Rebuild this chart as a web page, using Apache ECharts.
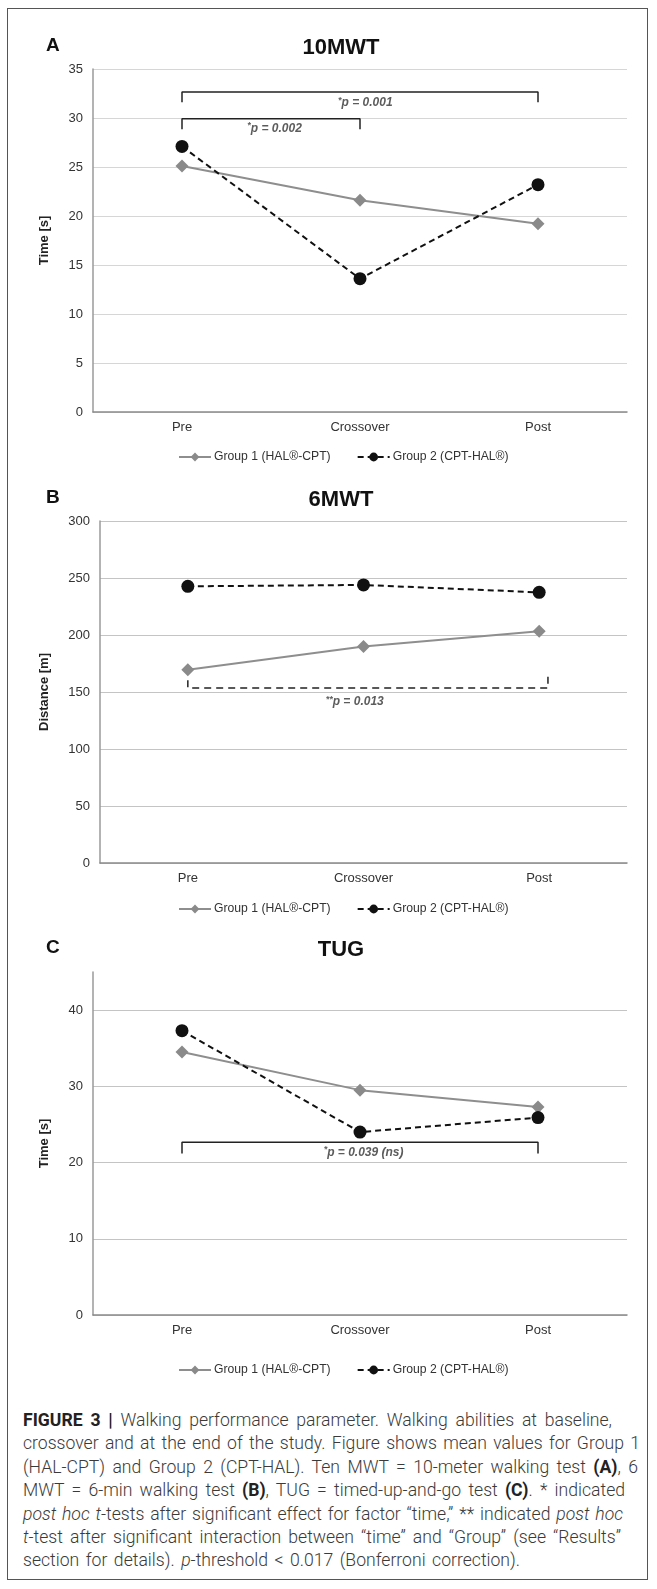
<!DOCTYPE html>
<html><head><meta charset="utf-8">
<script src="https://cdn.jsdelivr.net/npm/echarts@6/dist/echarts.min.js"></script>
<style>
html,body{margin:0;padding:0;background:#fff;}
#frame{position:absolute;left:7px;top:8px;width:639px;height:1570px;border:1.5px solid #555;box-sizing:content-box;}
#chart{position:absolute;left:0;top:0;width:657px;height:1400px;}
#caption{position:absolute;left:23px;top:1409px;font-family:Roboto,"Liberation Sans",sans-serif;font-size:17.6px;line-height:23.4px;color:#3a3a3a;white-space:nowrap;font-weight:300;}
#caption div{text-align:justify;text-align-last:justify;white-space:normal;overflow:visible;}
#caption b{font-weight:700;color:#222;}
</style></head>
<body>
<div id="frame"></div>
<div id="chart"></div>
<div id="caption">
<div style="width:589px"><b>FIGURE 3 |</b> Walking performance parameter. Walking abilities at baseline,</div>
<div style="width:617px">crossover and at the end of the study. Figure shows mean values for Group 1</div>
<div style="width:615px">(HAL-CPT) and Group 2 (CPT-HAL). Ten MWT = 10-meter walking test <b>(A)</b>, 6</div>
<div style="width:602px">MWT = 6-min walking test <b>(B)</b>, TUG = timed-up-and-go test <b>(C)</b>. * indicated</div>
<div style="width:600px"><i>post hoc t</i>-tests after significant effect for factor “time,” ** indicated <i>post hoc</i></div>
<div style="width:598px"><i>t</i>-test after significant interaction between “time” and “Group” (see “Results”</div>
<div style="width:497px">section for details). <i>p</i>-threshold &lt; 0.017 (Bonferroni correction).</div>
</div>
<script>
// ---- data ----
const categories = ['Pre', 'Crossover', 'Post'];
const seriesNames = ['Group 1 (HAL®-CPT)', 'Group 2 (CPT-HAL®)'];
const panelLetters = ['A', 'B', 'C'];
const panelTitles = ['10MWT', '6MWT', 'TUG'];
const yAxisNames = ['Time [s]', 'Distance [m]', 'Time [s]'];

const mwt10Group1 = [25.1, 21.6, 19.2];
const mwt10Group2 = [27.1, 13.6, 23.2];
const mwt6Group1 = [169.6, 190.0, 203.2];
const mwt6Group2 = [242.7, 243.9, 237.4];
const tugGroup1 = [34.5, 29.5, 27.3];
const tugGroup2 = [37.3, 24.0, 25.9];

const yTicksA = [0, 5, 10, 15, 20, 25, 30, 35];
const yTicksB = [0, 50, 100, 150, 200, 250, 300];
const yTicksC = [0, 10, 20, 30, 40];
const yMaxC = 45;

// significance brackets: path points in (category index, value)
const bracketA1 = [[0, 31.6], [0, 32.66], [2, 32.66], [2, 31.6]];
const bracketA2 = [[0, 28.85], [0, 29.93], [1, 29.93], [1, 28.85]];
const bracketB1 = [[0, 160.2], [0, 153.5], [2.05, 153.5], [2.05, 166]];
const bracketC1 = [[0, 21.2], [0, 22.67], [2, 22.67], [2, 21.2]];
const labelA1 = { at: [1.03, 31.55], stars: '*', text: 'p = 0.001' };
const labelA2 = { at: [0.52, 28.95], stars: '*', text: 'p = 0.002' };
const labelB1 = { at: [0.95, 141.2], stars: '**', text: 'p = 0.013' };
const labelC1 = { at: [1.02, 21.35], stars: '*', text: 'p = 0.039 (ns)' };

// ---- layout ----
const NARROW = '"Liberation Sans Narrow","Liberation Sans",Arial,sans-serif';
const SANS = '"Liberation Sans",Arial,sans-serif';
const grids = [
  { left: 93, right: 30, top: 69, height: 343 },
  { left: 100, right: 30, top: 521, height: 342 },
  { left: 93, right: 30, top: 972, height: 343 }
];
const gridColors = ['#d6d6d6', '#c4c4c4', '#c4c4c4'];
const titleTops = [31, 483, 933];
const legendTops = [446, 898, 1359];
const ticksList = [yTicksA, yTicksB, yTicksC];
const group1List = [mwt10Group1, mwt6Group1, tugGroup1];
const group2List = [mwt10Group2, mwt6Group2, tugGroup2];
const brackets = [[{ path: bracketA1, dash: 'solid' }, { path: bracketA2, dash: 'solid' }],
                  [{ path: bracketB1, dash: [7, 5] }],
                  [{ path: bracketC1, dash: 'solid' }]];
const labels = [[labelA1, labelA2], [labelB1], [labelC1]];

const option = {
  animation: false,
  title: [], grid: [], xAxis: [], yAxis: [], legend: [], series: []
};

for (let i = 0; i < 3; i++) {
  const ticks = ticksList[i];
  const interval = ticks[1] - ticks[0];
  const yMax = i === 2 ? yMaxC : ticks[ticks.length - 1];
  option.grid.push(grids[i]);
  option.title.push({ text: panelLetters[i], left: 41, top: titleTops[i],
    textStyle: { fontFamily: SANS, fontSize: 19, fontWeight: 'bold', color: '#111' } });
  option.title.push({ text: panelTitles[i], left: 336, textAlign: 'center', top: titleTops[i] + 1,
    textStyle: { fontFamily: SANS, fontSize: 22, fontWeight: 'bold', color: '#111' } });
  option.xAxis.push({
    type: 'category', gridIndex: i, data: categories, boundaryGap: true,
    axisLine: { lineStyle: { color: '#8a8a8a', width: 1.5 } },
    axisTick: { show: false },
    axisLabel: { fontFamily: NARROW, fontSize: 13, color: '#333', margin: 9 }
  });
  option.xAxis.push({ type: 'value', gridIndex: i, min: -0.5, max: 2.5, show: false });
  option.yAxis.push({
    type: 'value', gridIndex: i, min: 0, max: yMax, interval: interval,
    name: yAxisNames[i], nameLocation: 'middle', nameGap: i === 1 ? 49 : 42,
    nameTextStyle: { fontFamily: SANS, fontSize: 13, fontWeight: 'bold', color: '#222' },
    axisLine: { show: true, onZero: false, lineStyle: { color: '#9a9a9a', width: 1.5 } },
    axisTick: { show: false },
    axisLabel: { fontFamily: NARROW, fontSize: 13, color: '#333', margin: 10, showMaxLabel: i !== 2 },
    splitLine: { show: true, showMaxLine: i !== 2, lineStyle: { color: gridColors[i], width: 1.2 } }
  });
  option.legend.push({
    data: seriesNames, left: 173, top: legendTops[i], itemGap: 26, itemWidth: 32, itemHeight: 11,
    textStyle: { fontFamily: NARROW, fontSize: 12.2, color: '#333', padding: [0, 0, 0, -2] }
  });
  option.series.push({
    type: 'line', name: seriesNames[0], xAxisIndex: 2 * i, yAxisIndex: i, data: group1List[i],
    symbol: 'diamond', symbolSize: 13,
    lineStyle: { color: '#8e8e8e', width: 2 }, itemStyle: { color: '#8a8a8a' }, z: 3
  });
  option.series.push({
    type: 'line', name: seriesNames[1], xAxisIndex: 2 * i, yAxisIndex: i, data: group2List[i],
    symbol: 'circle', symbolSize: 13,
    lineStyle: { color: '#111', width: 2, type: [6, 4] }, itemStyle: { color: '#111' }, z: 4
  });
  brackets[i].forEach(b => {
    option.series.push({
      type: 'line', xAxisIndex: 2 * i + 1, yAxisIndex: i, data: b.path, symbol: 'none', silent: true,
      lineStyle: { color: '#222', width: 1.5, type: b.dash }, z: 2
    });
  });
  labels[i].forEach(l => {
    option.series.push({
      type: 'scatter', xAxisIndex: 2 * i + 1, yAxisIndex: i, data: [l.at], symbolSize: 1,
      itemStyle: { color: 'rgba(0,0,0,0)' }, silent: true,
      label: { show: true, position: 'inside', formatter: '{s|' + l.stars + '}{p|' + l.text + '}',
        rich: {
          s: { fontFamily: SANS, fontSize: 9, fontStyle: 'italic', fontWeight: 'bold', color: '#333', padding: [0, 0, 5, 0] },
          p: { fontFamily: SANS, fontSize: 12, fontStyle: 'italic', fontWeight: 'bold', color: '#333' }
        } }
    });
  });
}

const chart = echarts.init(document.getElementById('chart'), null, { renderer: 'canvas' });
chart.setOption(option);
</script>
</body></html>
